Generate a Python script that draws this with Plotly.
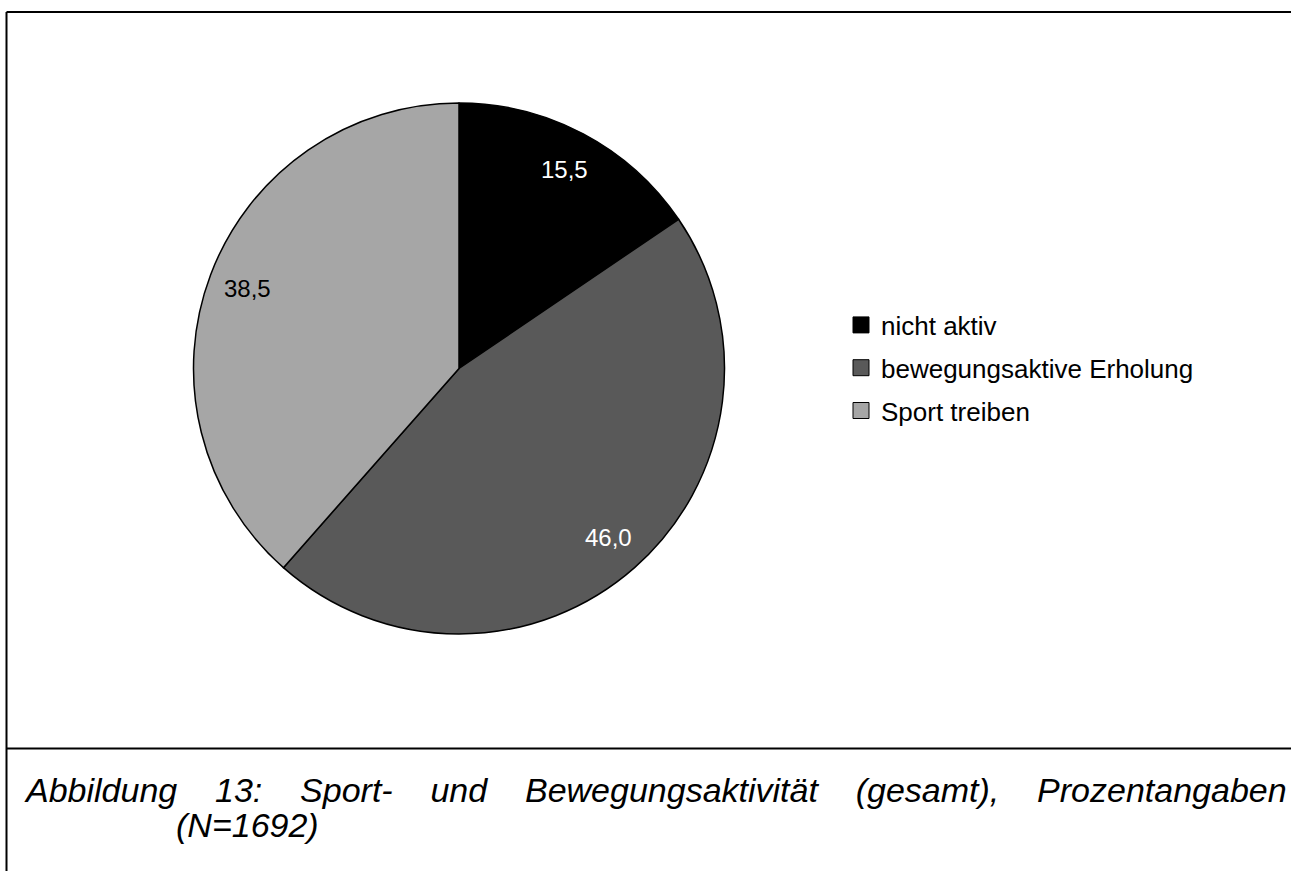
import math
import plotly.graph_objects as go

# ---- data ----
categories = ["nicht aktiv", "bewegungsaktive Erholung", "Sport treiben"]
values = [15.5, 46.0, 38.5]
slice_colors = ["#000000", "#595959", "#a6a6a6"]
label_colors = ["#ffffff", "#ffffff", "#000000"]
caption_words = ["Abbildung", "13:", "Sport-", "und", "Bewegungsaktivität", "(gesamt),", "Prozentangaben"]
caption_line2 = "(N=1692)"

W, H = 1291, 871
CX, CY, R = 459.0, 368.5, 265.5
FONT = "Liberation Sans, Arial, sans-serif"

fig = go.Figure()

fig.add_trace(go.Pie(
    labels=categories,
    values=values,
    sort=False,
    direction="clockwise",
    rotation=0,
    marker=dict(colors=slice_colors, line=dict(color="#000000", width=1.5)),
    textinfo="none",
    hoverinfo="label+value",
    showlegend=False,
    domain=dict(x=[(CX - R) / W, (CX + R) / W], y=[1 - (CY + R) / H, 1 - (CY - R) / H]),
))

# legend entries (one per category, same colours as the slices)
for i, (cat, col) in enumerate(zip(categories, slice_colors)):
    fig.add_trace(go.Scatter(
        x=[None], y=[None], mode="markers", name=cat,
        legendgroup=f"g{i}",
        marker=dict(symbol="square", size=16, color=col, line=dict(color="#000000", width=1)),
        showlegend=True,
    ))

# slice value labels placed at 85% of the radius, at each slice's mid-angle
annotations = []
total = sum(values)
cum = 0.0
for v, tc in zip(values, label_colors):
    mid = (cum + v / 2) / total * 2 * math.pi
    cum += v
    px = CX + 0.85 * R * math.sin(mid)
    py = CY - 0.85 * R * math.cos(mid)
    annotations.append(dict(
        x=px / W, y=1 - py / H, xref="paper", yref="paper",
        text=f"{v:.1f}".replace(".", ","), showarrow=False,
        font=dict(family=FONT, size=24, color=tc),
        xanchor="center", yanchor="middle",
    ))

# caption
gap = " " + "\u00a0" * 3
annotations.append(dict(
    x=22 / W, y=1 - 790 / H, xref="paper", yref="paper",
    text="<i>" + gap.join(caption_words) + "</i>", showarrow=False,
    font=dict(family=FONT, size=34, color="#000000"),
    xanchor="left", yanchor="middle",
))
annotations.append(dict(
    x=174 / W, y=1 - 825 / H, xref="paper", yref="paper",
    text="<i>" + caption_line2 + "</i>", showarrow=False,
    font=dict(family=FONT, size=34, color="#000000"),
    xanchor="left", yanchor="middle",
))

# frame lines
lx = 6.5 / W
shapes = [
    dict(type="line", xref="paper", yref="paper", x0=lx, x1=1.01, y0=1 - 12 / H, y1=1 - 12 / H,
         line=dict(color="#000000", width=2)),
    dict(type="line", xref="paper", yref="paper", x0=lx, x1=lx, y0=1 - 12 / H, y1=-0.01,
         line=dict(color="#000000", width=2)),
    dict(type="line", xref="paper", yref="paper", x0=lx, x1=1.01, y0=1 - 748.5 / H, y1=1 - 748.5 / H,
         line=dict(color="#000000", width=2)),
]

fig.update_layout(
    width=W, height=H,
    margin=dict(l=0, r=0, t=0, b=0),
    paper_bgcolor="#ffffff", plot_bgcolor="#ffffff",
    xaxis=dict(visible=False), yaxis=dict(visible=False),
    showlegend=True,
    legend=dict(
        x=841 / W, y=1 - 368 / H, xanchor="left", yanchor="middle",
        font=dict(family=FONT, size=26, color="#000000"),
        bgcolor="rgba(0,0,0,0)", itemwidth=30, tracegroupgap=6,
        itemclick=False, itemdoubleclick=False,
    ),
    annotations=annotations,
    shapes=shapes,
)

fig.write_html("out.html", config={"displayModeBar": False},
               post_script="document.body.style.margin='0';")
